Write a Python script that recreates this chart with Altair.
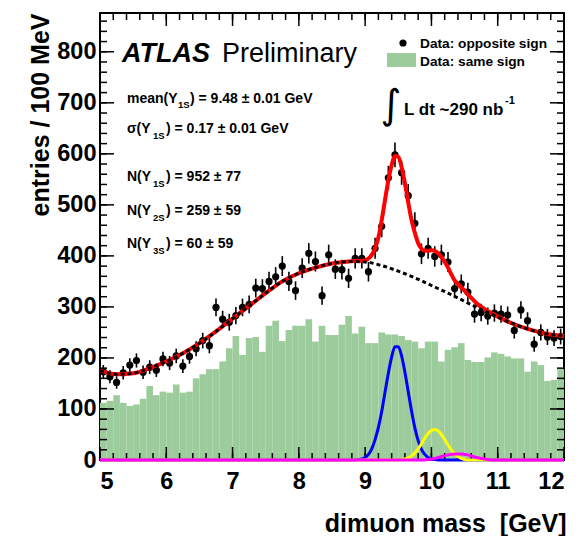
import altair as alt
import numpy as np
import pandas as pd

# ---------------- data ----------------
bin_lo = [round(5.0 + 0.1 * i, 2) for i in range(70)]
bin_centers = [round(5.05 + 0.1 * i, 2) for i in range(70)]

opposite_sign = [173, 163, 152, 171, 186, 195, 172, 182, 176, 198,
                 190, 204, 184, 203, 218, 234, 224, 299, 276, 270,
                 283, 299, 305, 337, 336, 350, 359, 380, 350, 332,
                 376, 405, 389, 322, 402, 374, 373, 356, 395, 395,
                 369, 415, 458, 553, 598, 563, 518, 464, 404, 415,
                 399, 402, 388, 336, 345, 329, 286, 289, 282, 288,
                 286, 284, 254, 294, 273, 227, 250, 241, 239, 242]

same_sign = [112, 116, 127, 112, 106, 109, 120, 145, 127, 134,
             132, 148, 132, 134, 160, 168, 178, 178, 193, 219,
             243, 206, 239, 241, 212, 263, 273, 233, 255, 263,
             263, 276, 232, 263, 245, 245, 265, 282, 248, 261,
             229, 229, 250, 246, 246, 243, 235, 232, 219, 232,
             232, 193, 216, 221, 229, 196, 192, 192, 201, 211,
             208, 203, 199, 199, 173, 193, 186, 155, 157, 178]

bkg_x = [5.0, 5.25, 5.5, 5.75, 6.0, 6.25, 6.5, 6.75, 7.0, 7.25, 7.5, 7.75,
         8.0, 8.25, 8.5, 8.75, 9.0, 9.25, 9.5, 9.75, 10.0, 10.25, 10.5,
         10.75, 11.0, 11.25, 11.5, 11.75, 12.0]
bkg_y = [175, 168, 170, 180, 193, 209, 229, 252, 277, 302, 327, 350,
         366, 377, 385, 389, 388, 381, 370, 357, 342, 327, 311,
         295, 280, 266, 255, 247, 243]

tot_x = [5.0, 5.25, 5.5, 5.75, 6.0, 6.25, 6.5, 6.75, 7.0, 7.25, 7.5, 7.75,
         8.0, 8.25, 8.5, 8.75,
         9.0, 9.05, 9.1, 9.15, 9.2, 9.25, 9.3, 9.35, 9.4, 9.45, 9.5, 9.55,
         9.6, 9.65, 9.7, 9.75, 9.8, 9.85, 9.9, 9.95, 10.0, 10.05, 10.1,
         10.15, 10.2, 10.25, 10.3, 10.35, 10.4, 10.45, 10.5, 10.55, 10.6,
         10.7, 10.8, 10.9, 11.0, 11.25, 11.5, 11.75, 12.0]
tot_y = [175, 168, 170, 180, 193, 209, 229, 252, 277, 302, 327, 350,
         366, 377, 385, 389,
         391, 395, 402, 415, 436, 470, 510, 548, 578, 596, 594, 574,
         542, 505, 470, 445, 425, 414, 410, 410, 411, 410, 405,
         398, 388, 377, 364, 352, 345, 338, 332, 324, 318,
         305, 296, 288, 281, 266, 255, 247, 243]

y1s_x = [5.0, 8.8, 8.9, 8.95, 9.0, 9.05, 9.1, 9.15, 9.2, 9.25, 9.3, 9.35,
         9.4, 9.45, 9.5, 9.55, 9.6, 9.65, 9.7, 9.75, 9.8, 9.85, 9.9, 9.95,
         10.0, 10.05, 10.15, 12.0]
y1s_y = [0, 0, 1, 2, 5, 11, 22, 40, 64, 95, 133, 170,
         202, 222, 222, 204, 172, 134, 96, 63, 38, 21, 11, 5,
         2, 1, 0, 0]

y2s_x = [5.0, 9.5, 9.55, 9.6, 9.65, 9.7, 9.75, 9.8, 9.85, 9.9, 9.95, 10.0,
         10.05, 10.1, 10.15, 10.2, 10.25, 10.3, 10.35, 10.4, 10.45, 10.5,
         10.55, 12.0]
y2s_y = [0, 0, 1, 2, 4, 8, 14, 22, 32, 43, 52, 58,
         60, 57, 50, 40, 30, 20, 12, 7, 3, 1,
         0, 0]

y3s_x = [5.0, 9.85, 9.95, 10.05, 10.15, 10.25, 10.35, 10.45, 10.55, 10.65,
         10.75, 10.85, 10.95, 12.0]
y3s_y = [0, 0, 1, 3, 7, 10, 12, 12, 10, 6, 3, 1, 0, 0]

x_major = [5, 6, 7, 8, 9, 10, 11, 12]
x_minor = [round(5 + 0.2 * i, 1) for i in range(36)]
y_major = [0, 100, 200, 300, 400, 500, 600, 700, 800]
y_minor = [20 * i for i in range(44)]

# ---------------- layout ----------------
W, H = 464, 447
PL, PT = 100, 13
FONT = "Liberation Sans"
GREEN = "#9ccc9c"
XMIN, XMAX, YMIN, YMAX = 5.0, 12.0, 0.0, 876.0

xs = alt.Scale(domain=[XMIN, XMAX], nice=False, zero=False)
ys = alt.Scale(domain=[YMIN, YMAX], nice=False, zero=False)

x_axis = alt.Axis(values=x_major, ticks=False, domain=False, grid=False,
                  labelFont=FONT, labelFontSize=23.5, labelFontWeight="bold",
                  labelPadding=9, labelColor="black",
                  title="dimuon mass\u00a0 [GeV]", titleFont=FONT, titleFontSize=25,
                  titleFontWeight="bold", titleColor="black",
                  titleX=W + 2, titleY=63, titleAlign="right", titleBaseline="middle")
y_axis = alt.Axis(values=y_major, ticks=False, domain=False, grid=False,
                  labelFont=FONT, labelFontSize=23.5, labelFontWeight="bold",
                  labelPadding=4, labelColor="black",
                  title="entries / 100 MeV", titleFont=FONT, titleFontSize=25,
                  titleFontWeight="bold", titleColor="black",
                  titleX=-60, titleY=0, titleAngle=270, titleAlign="right",
                  titleBaseline="middle")

def X(field):
    return alt.X(field, type="quantitative", scale=xs, axis=x_axis)

def Y(field):
    return alt.Y(field, type="quantitative", scale=ys, axis=y_axis)

hist_df = pd.DataFrame({"lo": bin_lo, "hi": [round(v + 0.1, 2) for v in bin_lo],
                        "n": same_sign, "base": [0] * 70})
pts_df = pd.DataFrame({"m": bin_centers, "n": opposite_sign})
pts_df["lo"] = pts_df["n"] - np.sqrt(pts_df["n"])
pts_df["hi"] = pts_df["n"] + np.sqrt(pts_df["n"])

hist = alt.Chart(hist_df).mark_rect(color=GREEN).encode(
    x=X("lo"), x2="hi", y=Y("n"), y2="base")

# tick marks inside the frame (ROOT style), as segments in data units
px_y = (YMAX - YMIN) / H
px_x = (XMAX - XMIN) / W
rows = []
for vals, L in ((x_major, 13), (x_minor, 7)):
    for v in vals:
        rows.append({"sx": float(v), "sx2": float(v), "sy": YMIN, "sy2": YMIN + L * px_y})
        rows.append({"sx": float(v), "sx2": float(v), "sy": YMAX - L * px_y, "sy2": YMAX})
for vals, L in ((y_major, 14), (y_minor, 7)):
    for v in vals:
        rows.append({"sx": XMIN, "sx2": XMIN + L * px_x, "sy": float(v), "sy2": float(v)})
        rows.append({"sx": XMAX - L * px_x, "sx2": XMAX, "sy": float(v), "sy2": float(v)})

ticks = alt.Chart(alt.Data(values=rows)).mark_rule(color="black", strokeWidth=1.5).encode(
    x=alt.X("sx:Q", scale=xs, axis=x_axis), x2="sx2:Q",
    y=alt.Y("sy:Q", scale=ys, axis=y_axis), y2="sy2:Q")

errs = alt.Chart(pts_df).mark_rule(color="black", strokeWidth=1.6).encode(
    x=X("m"), y=Y("lo"), y2="hi")
dots = alt.Chart(pts_df).mark_circle(color="black", size=52, opacity=1).encode(
    x=X("m"), y=Y("n"))

def curve(xv, yv, color, width, dash=None):
    df = pd.DataFrame({"mx": xv, "my": yv})
    kw = dict(color=color, strokeWidth=width, interpolate="monotone", clip=False)
    if dash:
        kw["strokeDash"] = dash
    return alt.Chart(df).mark_line(**kw).encode(
        x=X("mx"), y=Y("my"), order="mx:Q")

blue = curve(y1s_x, y1s_y, "#0000ff", 3)
yellow = curve(y2s_x, y2s_y, "#ffff00", 3)
magenta = curve(y3s_x, y3s_y, "#ff00ff", 3)
red = curve(tot_x, tot_y, "#ff0000", 4)
bkg = curve(bkg_x, bkg_y, "black", 3, dash=[4, 3])

dummy = alt.Data(values=[{"a": 1}])

def txt(text, x, y, size, weight="bold", style="normal", align="left",
        baseline="alphabetic", color="black", font=FONT):
    return alt.Chart(dummy).mark_text(
        text=text, align=align, baseline=baseline, fontSize=size,
        fontWeight=weight, fontStyle=style, font=font, color=color).encode(
        x=alt.value(x - PL), y=alt.value(y - PT))

texts = [
    txt("ATLAS", 122, 62, 27, weight="bold", style="italic"),
    txt("Preliminary", 222, 62, 27, weight="normal"),
    txt("mean(Υ", 127, 103, 14),
    txt("1S", 178, 108, 9.5),
    txt(") = 9.48 ± 0.01 GeV", 190, 103, 14),
    txt("σ(Υ", 127, 133, 14),
    txt("1S", 153, 139, 9.5),
    txt(") = 0.17 ± 0.01 GeV", 166, 133, 14),
    txt("N(Υ", 127, 181, 14),
    txt("1S", 153, 187, 9.5),
    txt(") = 952 ± 77", 166, 181, 14),
    txt("N(Υ", 127, 215, 14),
    txt("2S", 153, 221, 9.5),
    txt(") = 259 ± 59", 166, 215, 14),
    txt("N(Υ", 127, 248, 14),
    txt("3S", 153, 254, 9.5),
    txt(") = 60 ± 59", 166, 248, 14),
    txt("∫", 391, 106, 40, weight="normal", align="center", baseline="middle",
        font="DejaVu Sans"),
    txt("L dt ~290 nb", 404, 115, 17),
    txt("-1", 505, 104, 11),
    txt("Data: opposite sign", 420, 48, 13.7),
    txt("Data: same sign", 420, 66, 13.7),
]

leg_dot = alt.Chart(dummy).mark_circle(color="black", size=52, opacity=1).encode(
    x=alt.value(403 - PL), y=alt.value(43 - PT))
leg_box = alt.Chart(dummy).mark_rect(color=GREEN).encode(
    x=alt.value(387 - PL), x2=alt.value(416 - PL),
    y=alt.value(53 - PT), y2=alt.value(67 - PT))

layers = [hist, ticks, errs, dots, blue, yellow, magenta, red, bkg,
          leg_dot, leg_box] + texts

chart = alt.layer(*layers).properties(
    width=W, height=H,
    padding={"left": PL, "top": PT, "right": 15, "bottom": 76},
    autosize=alt.AutoSizeParams(type="none"),
    background="white",
).configure_view(stroke="black", strokeWidth=2)

chart.save("out.html", embed_options={"renderer": "svg", "actions": False})
